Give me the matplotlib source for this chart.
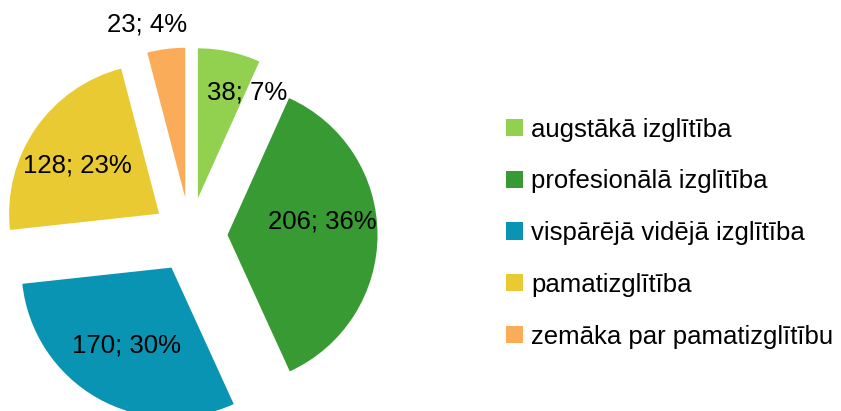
import numpy as np
import matplotlib
matplotlib.use("Agg")
import matplotlib.pyplot as plt

plt.rcParams['font.family'] = ['Liberation Sans', 'DejaVu Sans']

categories = ['augstākā izglītība', 'profesionālā izglītība', 'vispārējā vidējā izglītība',
              'pamatizglītība', 'zemāka par pamatizglītību']
counts = [38, 206, 170, 128, 23]
percents = [7, 36, 30, 23, 4]
colors = ['#92D050', '#389A33', '#0894B2', '#E9CA32', '#FAAC58']

fig = plt.figure(figsize=(8.41, 4.11), dpi=100)
ax = fig.add_axes([0, 0, 1, 1])

R = 150
center = (190, 176)
wedges, _ = ax.pie(counts, colors=colors, startangle=90, counterclock=False,
                   radius=R, center=center, explode=[0.25 * R] * len(counts),
                   wedgeprops=dict(linewidth=0), frame=True)
ax.set_xlim(0, 841)
ax.set_ylim(0, 411)
ax.set_aspect('equal')
ax.axis('off')

# label placement per slice: (fraction of radius from slice tip, angle shift in degrees)
lab_pos = [(0.78, -13), (0.64, 8), (0.6, 0), (0.63, 4), (1.18, 5)]
for w, c, p, (fr, sh) in zip(wedges, counts, percents, lab_pos):
    mid = np.deg2rad((w.theta1 + w.theta2) / 2 + sh)
    x = w.center[0] + fr * R * np.cos(mid)
    y = w.center[1] + fr * R * np.sin(mid)
    ax.text(x, y, f'{c}; {p}%', ha='center', va='center', fontsize=18.5, color='black')

fig.legend(wedges, categories, loc='center left', bbox_to_anchor=(506 / 841, 178 / 411),
           frameon=False, fontsize=18.5, handlelength=0.66, handleheight=0.66,
           handletextpad=0.33, labelspacing=1.08, borderpad=0, borderaxespad=0)

fig.savefig('out.png', dpi=100)
